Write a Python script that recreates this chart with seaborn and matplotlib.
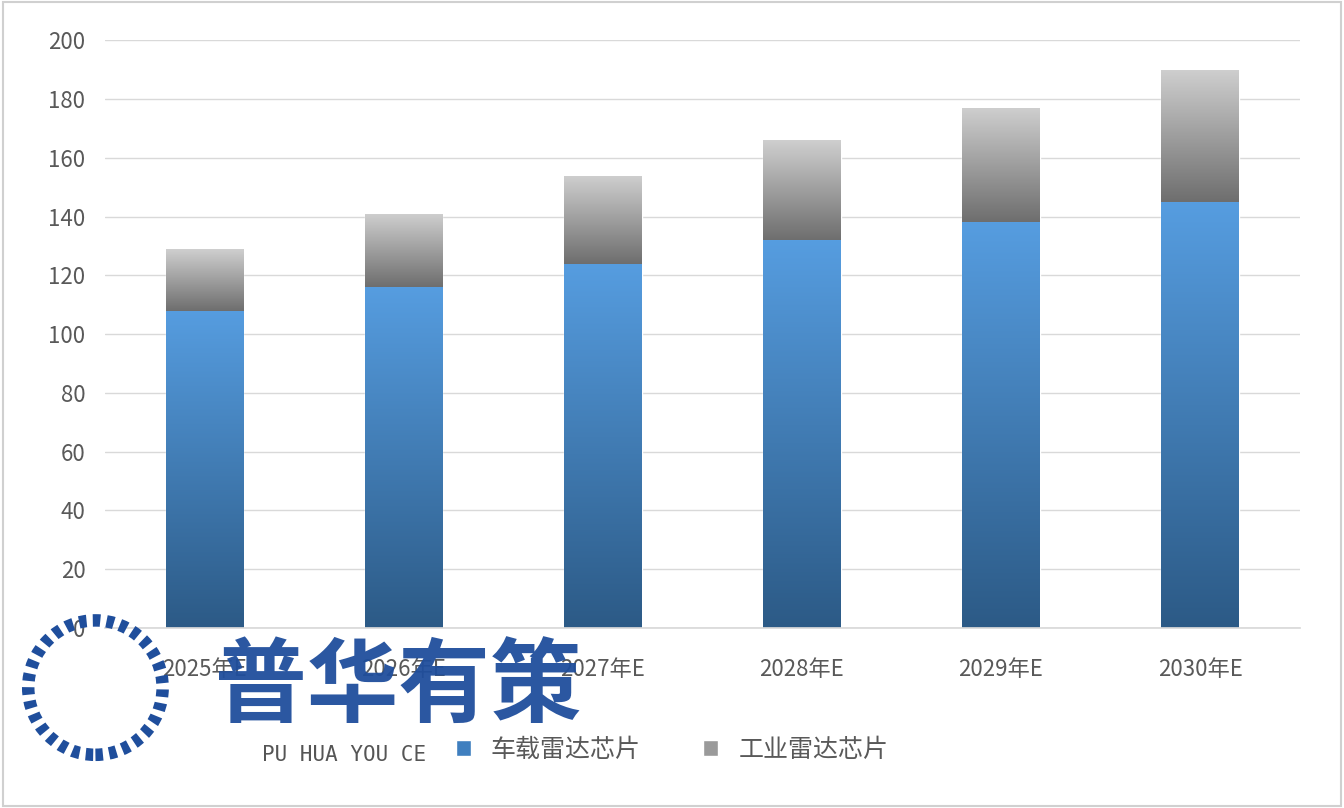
import matplotlib
matplotlib.use("Agg")
import matplotlib.pyplot as plt
import seaborn as sns
import numpy as np
from matplotlib.colors import LinearSegmentedColormap
from matplotlib.patches import Patch, Rectangle, Ellipse

sns.set_theme(style="white")
plt.rcParams['font.family'] = ['Noto Sans CJK SC', 'DejaVu Sans']

years = ['2025年E', '2026年E', '2027年E', '2028年E', '2029年E', '2030年E']
vehicle = [108, 116, 124, 132, 138, 145]
industrial = [21, 25, 30, 34, 39, 45]

blue_cmap = LinearSegmentedColormap.from_list('b', ['#2c5a86', '#569de0'])
gray_cmap = LinearSegmentedColormap.from_list('g', ['#6e6e6e', '#cfcfcf'])

fig = plt.figure(figsize=(13.44, 8.08), dpi=100)
ax = fig.add_axes([0.078, 0.223, 0.889, 0.727])

x = np.arange(len(years))
b1 = ax.bar(x, vehicle, width=0.39, color='none')
b2 = ax.bar(x, industrial, bottom=vehicle, width=0.39, color='none')

grad = np.linspace(0, 1, 256).reshape(-1, 1)
for bars, cmap in ((b1, blue_cmap), (b2, gray_cmap)):
    for bar in bars:
        x0, y0 = bar.get_x(), bar.get_y()
        w, h = bar.get_width(), bar.get_height()
        im = ax.imshow(grad, cmap=cmap, origin='lower', aspect='auto',
                       extent=[x0, x0 + w, y0, y0 + h], zorder=2)
        im.set_clip_path(bar)

ax.set_xlim(-0.5, len(years) - 0.5)
ax.set_ylim(0, 200)
ax.set_yticks(range(0, 201, 20))
ax.set_xticks(x)
ax.set_xticklabels(years)
ax.yaxis.grid(True, color='#d9d9d9', linewidth=1)
ax.set_axisbelow(True)
for s in ['top', 'right', 'left']:
    ax.spines[s].set_visible(False)
ax.spines['bottom'].set_color('#d9d9d9')
ax.tick_params(axis='both', length=0, labelsize=16, colors='#595959', pad=14)
ax.tick_params(axis='x', pad=22)

handles = [Patch(facecolor='#3f7fbf', label='车载雷达芯片'),
           Patch(facecolor='#9a9a9a', label='工业雷达芯片')]
fig.legend(handles=handles, loc='center', bbox_to_anchor=(0.5, 0.072), ncol=2,
           frameon=False, fontsize=18, handlelength=0.6, handleheight=0.6,
           columnspacing=2.5, labelcolor='#595959')

# watermark
fig.text(0.16, 0.115, '普华有策', fontsize=66, fontweight='bold', color='#1f4e9c', alpha=0.95)
fig.text(0.195, 0.058, 'PU HUA YOU CE', fontsize=15, family='monospace', color='#555555')
fig.patches.append(Ellipse((0.071, 0.149), 0.1, 0.1 * 1344 / 808, transform=fig.transFigure,
                           fill=False, edgecolor='#1f4e9c', linewidth=9,
                           linestyle=(0, (0.6, 0.5))))
fig.patches.append(Rectangle((0.002, 0.002), 0.996, 0.996, transform=fig.transFigure,
                             fill=False, edgecolor='#d0d0d0', linewidth=1.5))

fig.savefig('out.png', dpi=100)
